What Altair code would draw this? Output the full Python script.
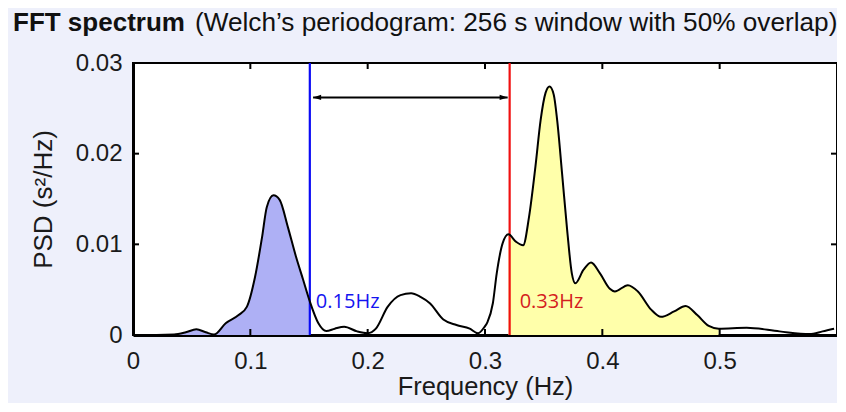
import altair as alt
import pandas as pd

# ---- data ----
freq = [0, 0.02, 0.035, 0.045, 0.054, 0.062, 0.069, 0.079, 0.090, 0.097,
        0.104, 0.110, 0.114, 0.1197, 0.125, 0.132, 0.139, 0.145, 0.1507, 0.158,
        0.1647, 0.172, 0.180, 0.191, 0.200, 0.207, 0.217, 0.228, 0.237, 0.245,
        0.253, 0.2645, 0.2757, 0.287, 0.294, 0.2996, 0.302, 0.3067, 0.310, 0.315,
        0.320, 0.3263, 0.3325, 0.3375, 0.343, 0.3474, 0.3516, 0.355, 0.3586, 0.3615,
        0.3657, 0.370, 0.374, 0.377, 0.384, 0.3904, 0.398, 0.4064, 0.4106, 0.4218,
        0.4303, 0.4416, 0.450, 0.4612, 0.471, 0.4809, 0.4907, 0.4992, 0.523, 0.551,
        0.5765, 0.5877, 0.5975]
psd = [0, 0, 0.00005, 0.0003, 0.00063, 0.0003, 0.00005, 0.0013, 0.0022, 0.0031,
       0.0064, 0.0108, 0.0141, 0.0154, 0.0149, 0.0119, 0.0086, 0.0061, 0.0037, 0.0013,
       0.00044, 0.0007, 0.0009, 0.0004, 0.0002, 0.0007, 0.0031, 0.0044, 0.0046, 0.0042,
       0.0035, 0.0017, 0.0011, 0.0007, 0.0002, 0.0009, 0.0014, 0.0035, 0.0068, 0.0101,
       0.0111, 0.0103, 0.0099, 0.0130, 0.0186, 0.0237, 0.0267, 0.0274, 0.0265, 0.0237,
       0.0178, 0.0116, 0.0068, 0.0057, 0.0072, 0.0080, 0.0068, 0.0051, 0.0048, 0.0055,
       0.0048, 0.0028, 0.0020, 0.0026, 0.0032, 0.0022, 0.0010, 0.0007, 0.0008, 0.0004,
       0.0001, 0.0004, 0.0007]
assert len(freq) == len(psd)

lf_band = [0.035, 0.1507]
hf_band = [0.320, 0.4992]
lf_cut = 0.1507
hf_cut = 0.321
lf_label = "0.15Hz"
hf_label = "0.33Hz"
label_y = 0.0036
arrow_x = [0.1535, 0.3193]
arrow_y = 0.0262
x_ticks = [0, 0.1, 0.2, 0.3, 0.4, 0.5]
y_ticks = [0, 0.01, 0.02, 0.03]
inner_x_ticks = [0.1, 0.2, 0.3, 0.4, 0.5]
inner_y_ticks = [0.01, 0.02]
title_main = "FFT spectrum"
title_sub = "(Welch\u2019s periodogram: 256 s window with 50% overlap)"

df = pd.DataFrame({"f": freq, "p": psd})

W, H = 704, 272
FONT = "Liberation Sans"
xs = alt.Scale(domain=[0, 0.6], nice=False, zero=False)
ys = alt.Scale(domain=[0, 0.03], nice=False)

x_axis = alt.Axis(values=x_ticks, format="~g", labelFontSize=24, labelPadding=14,
                  labelFlush=False, labelOverlap=False, tickSize=0, domainWidth=3,
                  domainColor="black", grid=False, title="Frequency (Hz)",
                  titleFontSize=25.5, titleFontWeight="normal", titleY=51,
                  titleBaseline="middle", labelColor="#1a1a1a", titleColor="#1a1a1a",
                  labelFont=FONT, titleFont=FONT)
y_axis = alt.Axis(values=y_ticks, format="~g", labelFontSize=24, labelPadding=11,
                  labelOverlap=False, labelFlush=False, tickSize=0, domainWidth=3,
                  domainColor="black", grid=False, title="PSD (s\u00b2/Hz)",
                  titleFontSize=26, titleFontWeight="normal", titleX=-90, titleY=H / 2,
                  titleAngle=-90, titleBaseline="middle", titleAlign="center",
                  labelColor="#1a1a1a", titleColor="#1a1a1a", labelFont=FONT,
                  titleFont=FONT)


def X(field):
    return alt.X(field, scale=xs, axis=x_axis)


def Y(field):
    return alt.Y(field, scale=ys, axis=y_axis)


base = alt.Chart(df)

lf_area = base.transform_filter(
    (alt.datum.f >= lf_band[0]) & (alt.datum.f <= lf_band[1])
).mark_area(color="#AEB0F5", opacity=1, interpolate="monotone").encode(
    x=X("f:Q"), y=Y("p:Q"))

hf_area = base.transform_filter(
    (alt.datum.f >= hf_band[0]) & (alt.datum.f <= hf_band[1])
).mark_area(color="#FFFFAA", opacity=1, interpolate="monotone").encode(
    x=X("f:Q"), y=Y("p:Q"))

cuts = pd.DataFrame({"x": [lf_cut, hf_cut], "c": ["#0A0AF5", "#F01010"]})
cut_rules = alt.Chart(cuts).mark_rule(strokeWidth=2.2).encode(
    x=X("x:Q"), color=alt.Color("c:N", scale=None),
    y=alt.value(0), y2=alt.value(H))

line = base.mark_line(color="black", strokeWidth=2, interpolate="monotone").encode(
    x=X("f:Q"), y=Y("p:Q"))

arrow_df = pd.DataFrame({"x1": [arrow_x[0]], "x2": [arrow_x[1]], "y": [arrow_y]})
arrow_line = alt.Chart(arrow_df).mark_rule(color="black", strokeWidth=2).encode(
    x=X("x1:Q"), x2="x2:Q", y=Y("y:Q"))
heads_df = pd.DataFrame({"x": arrow_x, "y": [arrow_y, arrow_y],
                         "s": ["left", "right"]})
head_l = alt.Chart(heads_df).transform_filter(alt.datum.s == "left").mark_point(
    shape="M0,0 L2,-0.65 L2,0.65 Z", filled=True, color="black", opacity=1, size=64
).encode(x=X("x:Q"), y=Y("y:Q"))
head_r = alt.Chart(heads_df).transform_filter(alt.datum.s == "right").mark_point(
    shape="M0,0 L-2,-0.65 L-2,0.65 Z", filled=True, color="black", opacity=1, size=64
).encode(x=X("x:Q"), y=Y("y:Q"))

xt = pd.DataFrame({"x": inner_x_ticks})
yt = pd.DataFrame({"y": inner_y_ticks})
tick_b = alt.Chart(xt).mark_rule(color="black", strokeWidth=2).encode(
    x=X("x:Q"), y=alt.value(H), y2=alt.value(H - 6))
tick_t = alt.Chart(xt).mark_rule(color="black", strokeWidth=2).encode(
    x=X("x:Q"), y=alt.value(0), y2=alt.value(6))
tick_l = alt.Chart(yt).mark_rule(color="black", strokeWidth=2).encode(
    y=Y("y:Q"), x=alt.value(0), x2=alt.value(6))
tick_r = alt.Chart(yt).mark_rule(color="black", strokeWidth=2).encode(
    y=Y("y:Q"), x=alt.value(W), x2=alt.value(W - 6))

lab_df = pd.DataFrame({"x": [lf_cut, hf_cut], "y": [label_y, label_y],
                       "t": [lf_label, hf_label], "c": ["#1414F0", "#D42020"],
                       "k": ["lf", "hf"]})
lab_lf = alt.Chart(lab_df).transform_filter(alt.datum.k == "lf").mark_text(
    align="left", baseline="middle", dx=6, font="Open Sans", fontSize=20).encode(
    x=X("x:Q"), y=Y("y:Q"), text="t:N", color=alt.Color("c:N", scale=None))
lab_hf = alt.Chart(lab_df).transform_filter(alt.datum.k == "hf").mark_text(
    align="left", baseline="middle", dx=10, font="Open Sans", fontSize=20).encode(
    x=X("x:Q"), y=Y("y:Q"), text="t:N", color=alt.Color("c:N", scale=None))

t_main = alt.Chart(pd.DataFrame({"t": [title_main]})).mark_text(
    align="left", baseline="alphabetic", font=FONT, fontSize=26, fontWeight="bold",
    color="#111").encode(text="t:N", x=alt.value(-120), y=alt.value(-32))
t_sub = alt.Chart(pd.DataFrame({"t": [title_sub]})).mark_text(
    align="left", baseline="alphabetic", font=FONT, fontSize=26.2,
    color="#111").encode(text="t:N", x=alt.value(62), y=alt.value(-32))

chart = alt.layer(
    lf_area, hf_area, cut_rules, line, arrow_line, head_l, head_r,
    tick_b, tick_t, tick_l, tick_r, lab_lf, lab_hf, t_main, t_sub
).properties(
    width=W, height=H, background="#EEF0FB",
    padding={"left": 125, "top": 55, "right": 0, "bottom": 68},
    autosize=alt.AutoSizeParams(type="none"),
).configure_view(stroke="black", strokeWidth=2, fill="white")

chart.save("out.html", embed_options={"renderer": "svg", "actions": False})
